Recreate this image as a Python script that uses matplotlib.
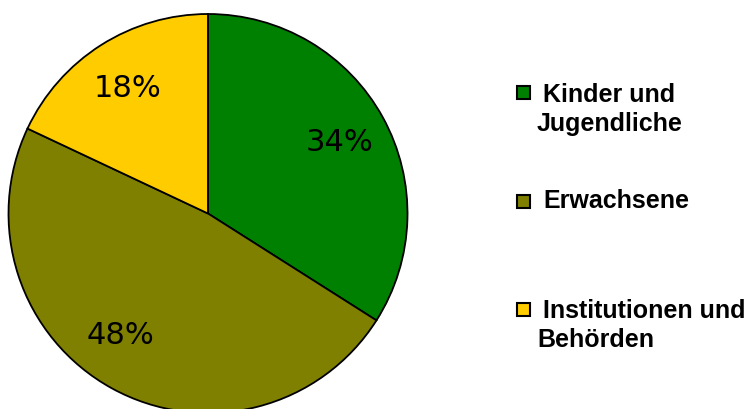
import matplotlib
matplotlib.use("Agg")
import matplotlib.pyplot as plt
import numpy as np
from matplotlib.patches import Rectangle

categories = ["Kinder und\nJugendliche", "Erwachsene", "Institutionen und\nBehörden"]
values = [34, 48, 18]
colors = ["#008000", "#808000", "#FFCC00"]

W, H = 755, 410
fig = plt.figure(figsize=(W / 100, H / 100), dpi=100)
fig.patch.set_facecolor("white")

# pie axes: center (208,214.5) px from top-left, radius 199.5 px
cx, cy, r = 208, 214.5, 199.5
ax = fig.add_axes([(cx - r) / W, (H - cy - r) / H, 2 * r / W, 2 * r / H])
wedges, texts, autotexts = ax.pie(
    values, colors=colors, startangle=90, counterclock=False,
    autopct=lambda p: f"{p:.0f}%", pctdistance=0.75,
    wedgeprops=dict(edgecolor="black", linewidth=1.3, clip_on=False),
    textprops=dict(fontsize=22, color="black", family="DejaVu Sans"),
)
# the 48% label sits a little left of the wedge's mid-angle in the original
ang = np.deg2rad(234)
autotexts[1].set_position((0.75 * np.cos(ang), 0.75 * np.sin(ang)))
ax.set_xlim(-1.0, 1.0)
ax.set_ylim(-1.0, 1.0)
ax.set_axis_off()

# legend, drawn manually
marker_y = [93, 202, 310]
first_base = [102, 208, 318]
for lab, col, my, by in zip(categories, colors, marker_y, first_base):
    s = 13
    fig.patches.append(Rectangle(((517) / W, (H - my - s / 2) / H), s / W, s / H,
                                 transform=fig.transFigure, facecolor=col,
                                 edgecolor="black", linewidth=1.5))
    lines = lab.split("\n")
    for i, ln in enumerate(lines):
        x = 543 if i == 0 else 537
        fig.text(x / W, (H - by - 29 * i) / H, ln, fontsize=18, fontweight="bold",
                 family="Liberation Sans", va="baseline", ha="left", color="black")

fig.savefig("out.png", dpi=100, facecolor="white")
